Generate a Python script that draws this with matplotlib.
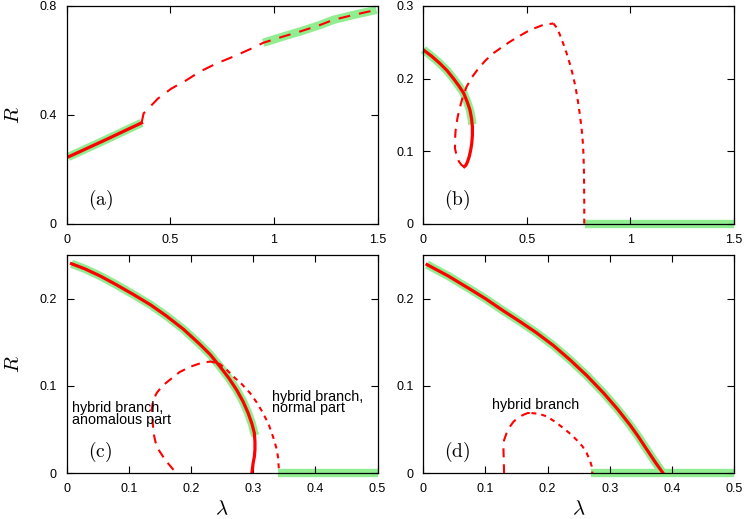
import matplotlib
matplotlib.use("Agg")
import matplotlib.pyplot as plt

plt.rcParams['font.family'] = ['Liberation Sans', 'DejaVu Sans']
plt.rcParams['mathtext.fontset'] = 'cm'
plt.rcParams['lines.scale_dashes'] = False
plt.rcParams['lines.solid_joinstyle'] = 'round'
plt.rcParams['lines.dash_joinstyle'] = 'round'

# ---------------- data ----------------
# panel (a)
a_stable_x = [0.008, 0.1, 0.2, 0.3, 0.362]
a_stable_R = [0.246, 0.278, 0.313, 0.349, 0.371]
a_unst_x = [0.362, 0.372, 0.442, 0.506, 0.579, 0.643, 0.723, 0.804, 0.884, 0.949,
            1.045, 1.125, 1.222, 1.286, 1.383, 1.495]
a_unst_R = [0.371, 0.406, 0.461, 0.497, 0.528, 0.559, 0.589, 0.614, 0.641, 0.665,
            0.688, 0.706, 0.730, 0.749, 0.767, 0.786]
a_green2_x = [0.949, 1.045, 1.125, 1.222, 1.286, 1.383, 1.495]
a_green2_R = [0.665, 0.688, 0.706, 0.730, 0.749, 0.767, 0.786]

# panel (b)
b_solid_x = [0.003, 0.04, 0.08, 0.115, 0.146, 0.172, 0.195, 0.212, 0.225, 0.233, 0.237,
             0.237, 0.234, 0.229, 0.222, 0.214, 0.206, 0.198]
b_solid_R = [0.239, 0.231, 0.221, 0.211, 0.200, 0.190, 0.180, 0.168, 0.157, 0.145, 0.134,
             0.122, 0.111, 0.102, 0.093, 0.086, 0.081, 0.079]
b_green_x = [0.0, 0.04, 0.08, 0.115, 0.146, 0.172, 0.195, 0.212, 0.225, 0.233, 0.237]
b_green_R = [0.240, 0.231, 0.221, 0.211, 0.200, 0.190, 0.180, 0.168, 0.157, 0.145, 0.137]
b_dash_x = [0.198, 0.185, 0.172, 0.160, 0.153, 0.153, 0.156, 0.165, 0.177, 0.192,
            0.209, 0.235, 0.266, 0.300, 0.338, 0.378, 0.419, 0.466, 0.515, 0.579, 0.628]
b_dash_R = [0.079, 0.081, 0.086, 0.095, 0.104, 0.116, 0.129, 0.146, 0.161, 0.176,
            0.189, 0.202, 0.214, 0.225, 0.235, 0.243, 0.251, 0.259, 0.267, 0.274, 0.276]
b_dot_x = [0.628, 0.645, 0.660, 0.676, 0.692, 0.708, 0.724, 0.737, 0.748, 0.757,
           0.765, 0.770, 0.773, 0.775, 0.776, 0.777, 0.777]
b_dot_R = [0.276, 0.270, 0.260, 0.248, 0.235, 0.220, 0.203, 0.185, 0.166, 0.148,
           0.129, 0.113, 0.097, 0.080, 0.065, 0.030, 0.0]
b_zero_x = [0.78, 1.5]
b_zero_R = [0.0, 0.0]

# panel (c)
c_solid_x = [0.008, 0.03, 0.054, 0.08, 0.107, 0.135, 0.161, 0.188, 0.214, 0.231,
             0.247, 0.261, 0.274, 0.284, 0.292, 0.298, 0.302, 0.303, 0.303, 0.302,
             0.300, 0.298]
c_solid_R = [0.240, 0.234, 0.226, 0.216, 0.205, 0.193, 0.180, 0.165, 0.148, 0.136,
             0.122, 0.109, 0.095, 0.082, 0.069, 0.057, 0.046, 0.036, 0.027, 0.019,
             0.0115, 0.0]
c_green_x = [0.008, 0.03, 0.054, 0.08, 0.107, 0.135, 0.161, 0.188, 0.214, 0.231,
             0.247, 0.261, 0.274, 0.284, 0.292, 0.298, 0.302, 0.304]
c_green_R = [0.240, 0.234, 0.226, 0.216, 0.205, 0.193, 0.180, 0.165, 0.148, 0.136,
             0.122, 0.109, 0.095, 0.082, 0.069, 0.057, 0.046, 0.043]
c_dash_x = [0.172, 0.159, 0.148, 0.143, 0.140, 0.137, 0.139, 0.145, 0.154, 0.166,
            0.182, 0.199, 0.215, 0.231, 0.245]
c_dash_R = [0.004, 0.015, 0.027, 0.036, 0.046, 0.072, 0.083, 0.092, 0.100, 0.107,
            0.116, 0.122, 0.126, 0.128, 0.126]
c_dot_x = [0.245, 0.257, 0.268, 0.282, 0.295, 0.306, 0.316, 0.325, 0.332, 0.337,
           0.340, 0.341, 0.342]
c_dot_R = [0.126, 0.119, 0.111, 0.102, 0.092, 0.081, 0.069, 0.056, 0.042, 0.030,
           0.019, 0.009, 0.0]
c_zero_x = [0.34, 0.5]
c_zero_R = [0.0, 0.0]

# panel (d)
d_solid_x = [0.006, 0.04, 0.075, 0.1, 0.129, 0.155, 0.182, 0.21, 0.236, 0.263,
             0.290, 0.312, 0.333, 0.346, 0.359, 0.373, 0.386]
d_solid_R = [0.239, 0.226, 0.211, 0.200, 0.186, 0.174, 0.161, 0.146, 0.130, 0.112,
             0.092, 0.074, 0.055, 0.042, 0.028, 0.013, 0.0]
d_dash_x = [0.130, 0.129, 0.130, 0.134, 0.139, 0.145, 0.153, 0.161, 0.168, 0.174]
d_dash_R = [0.0, 0.027, 0.038, 0.046, 0.053, 0.059, 0.064, 0.067, 0.069, 0.069]
d_dot_x = [0.174, 0.187, 0.199, 0.212, 0.225, 0.237, 0.247, 0.256, 0.263, 0.268,
           0.271, 0.272]
d_dot_R = [0.069, 0.068, 0.065, 0.059, 0.052, 0.045, 0.038, 0.031, 0.023, 0.015,
           0.008, 0.0]
d_zero_x = [0.27, 0.5]
d_zero_R = [0.0, 0.0]

# ---------------- styles ----------------
RED = '#ff0000'
GREEN = '#90ee90'
GW = 6.0
SW = 2.3
DW = 1.5
LONG = (0, (6.5, 5.0))
SHORT = (0, (3.6, 3.6))

fig = plt.figure(figsize=(7.47, 5.19), dpi=100)
W, H = 747.0, 519.0
def ax_at(l, t, r, b):
    return fig.add_axes([l / W, 1 - b / H, (r - l) / W, (b - t) / H])

ax_a = ax_at(66.5, 6, 377.5, 224)
ax_b = ax_at(423.3, 6, 734, 224)
ax_c = ax_at(66.5, 255, 377.5, 473.3)
ax_d = ax_at(423.3, 255, 734, 473.3)

for ax in (ax_a, ax_b, ax_c, ax_d):
    ax.tick_params(direction='in', top=True, right=True, length=5, width=0.8,
                   labelsize=9, pad=7)
    for s in ax.spines.values():
        s.set_linewidth(0.9)
        s.set_zorder(5)

def green(ax, x, y):
    ax.plot(x, y, color=GREEN, lw=GW, solid_capstyle='butt', zorder=1, clip_on=False)

# (a)
green(ax_a, a_stable_x, a_stable_R)
green(ax_a, a_green2_x, a_green2_R)
ax_a.plot(a_stable_x, a_stable_R, color=RED, lw=SW, zorder=3)
ax_a.plot(a_unst_x, a_unst_R, color=RED, lw=DW, linestyle=(0, (8.5, 6.5)), zorder=3)
ax_a.set_xlim(0, 1.5)
ax_a.set_ylim(0, 0.8)
ax_a.set_xticks([0, 0.5, 1, 1.5])
ax_a.set_xticklabels(['0', '0.5', '1', '1.5'])
ax_a.set_yticks([0, 0.4, 0.8])
ax_a.set_yticklabels(['0', '0.4', '0.8'])
ax_a.text(0.165, 0.087, r'$\mathrm{(a)}$', fontsize=14, ha='center', va='center')

# (b)
green(ax_b, b_green_x, b_green_R)
green(ax_b, b_zero_x, b_zero_R)
ax_b.plot(b_solid_x, b_solid_R, color=RED, lw=SW, zorder=3)
ax_b.plot(b_dash_x, b_dash_R, color=RED, lw=DW, linestyle=LONG, zorder=3)
ax_b.plot(b_dot_x, b_dot_R, color=RED, lw=DW, linestyle=SHORT, zorder=3)
ax_b.set_xlim(0, 1.5)
ax_b.set_ylim(0, 0.3)
ax_b.set_xticks([0, 0.5, 1, 1.5])
ax_b.set_xticklabels(['0', '0.5', '1', '1.5'])
ax_b.set_yticks([0, 0.1, 0.2, 0.3])
ax_b.set_yticklabels(['0', '0.1', '0.2', '0.3'])
ax_b.text(0.163, 0.0335, r'$\mathrm{(b)}$', fontsize=14, ha='center', va='center')

# (c)
green(ax_c, c_green_x, c_green_R)
green(ax_c, c_zero_x, c_zero_R)
ax_c.plot(c_solid_x, c_solid_R, color=RED, lw=SW, zorder=3)
ax_c.plot(c_dash_x, c_dash_R, color=RED, lw=DW, linestyle=LONG, zorder=3)
ax_c.plot(c_dot_x, c_dot_R, color=RED, lw=DW, linestyle=SHORT, zorder=3)
ax_c.set_xlim(0, 0.5)
ax_c.set_ylim(0, 0.25)
ax_c.set_xticks([0, 0.1, 0.2, 0.3, 0.4, 0.5])
ax_c.set_xticklabels(['0', '0.1', '0.2', '0.3', '0.4', '0.5'])
ax_c.set_yticks([0, 0.1, 0.2])
ax_c.set_yticklabels(['0', '0.1', '0.2'])
ax_c.text(0.054, 0.025, r'$\mathrm{(c)}$', fontsize=14, ha='center', va='center')
ax_c.text(0.0095, 0.0675, 'hybrid branch,\nanomalous part', fontsize=10.3,
          ha='left', va='center', linespacing=0.8)
ax_c.text(0.331, 0.081, 'hybrid branch,\nnormal part', fontsize=10.3,
          ha='left', va='center', linespacing=0.8)

# (d)
green(ax_d, d_solid_x, d_solid_R)
green(ax_d, d_zero_x, d_zero_R)
ax_d.plot(d_solid_x, d_solid_R, color=RED, lw=SW, zorder=3)
ax_d.plot(d_dash_x, d_dash_R, color=RED, lw=DW, linestyle=LONG, zorder=3)
ax_d.plot(d_dot_x, d_dot_R, color=RED, lw=DW, linestyle=SHORT, zorder=3)
ax_d.set_xlim(0, 0.5)
ax_d.set_ylim(0, 0.25)
ax_d.set_xticks([0, 0.1, 0.2, 0.3, 0.4, 0.5])
ax_d.set_xticklabels(['0', '0.1', '0.2', '0.3', '0.4', '0.5'])
ax_d.set_yticks([0, 0.1, 0.2])
ax_d.set_yticklabels(['0', '0.1', '0.2'])
ax_d.text(0.054, 0.025, r'$\mathrm{(d)}$', fontsize=14, ha='center', va='center')
ax_d.text(0.180, 0.078, 'hybrid branch', fontsize=10.3, ha='center', va='center')

# axis labels
for ax in (ax_a, ax_c):
    ax.set_ylabel(r'$R$', fontsize=15, labelpad=12)
for ax in (ax_c, ax_d):
    ax.set_xlabel(r'$\lambda$', fontsize=15, labelpad=3)

fig.savefig('out.png', dpi=100)
